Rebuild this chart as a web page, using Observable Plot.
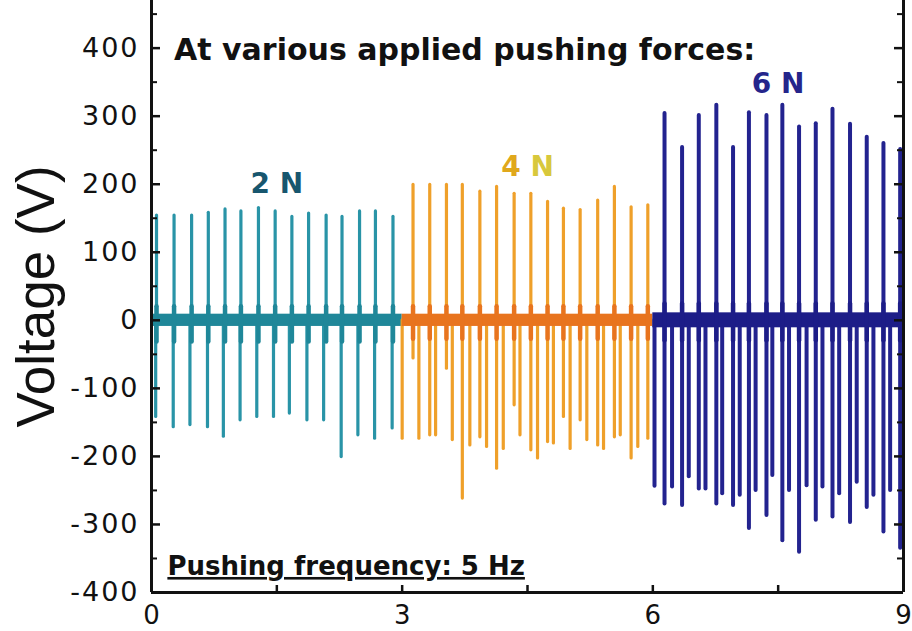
<!DOCTYPE html>
<html><head><meta charset="utf-8">
<script src="https://cdn.jsdelivr.net/npm/d3@7"></script>
<script src="https://cdn.jsdelivr.net/npm/@observablehq/plot@0.6"></script>
<style>
html,body{margin:0;padding:0;background:#fff;}
#chart svg{display:block;}
g[aria-label="y-axis tick label"] text{letter-spacing:2px;}
</style></head><body><div id="chart"></div>
<script>
// ---- axes ----
const xDomain = [0, 9];
const yDomain = [-400, 470];
const yTickValues = [-400, -300, -200, -100, 0, 100, 200, 300, 400];
const yMinorTicks = [-350, -250, -150, -50, 50, 150, 250, 350, 450];
const xTickValues = [0, 3, 6, 9];
const xInnerTicks = [1.5, 3, 4.5, 6, 7.5];

// ---- segments (applied force) ----
const forces = ["2 N", "4 N", "6 N"];
const segStart = [0, 3, 6];
const segEnd = [3, 6, 9];
const noiseAmp = [9, 9, 11];        // baseline noise band (V)
const ringLow = [-32, -28, -30];     // small lobes at each press (V)
const ringHigh = [20, 20, 24];

// ---- 2 N (0-3 s) ----
const t2Pos = [0.06, 0.27, 0.48, 0.68, 0.88, 1.07, 1.28, 1.48, 1.68, 1.88, 2.09, 2.28, 2.49, 2.68, 2.89];
const v2Pos = [154, 154, 154, 158, 163, 160, 165, 160, 152, 157, 154, 152, 160, 160, 152];
const t2Neg = [0.05, 0.26, 0.46, 0.67, 0.86, 1.06, 1.26, 1.46, 1.65, 1.86, 2.06, 2.27, 2.47, 2.67, 2.88];
const v2Neg = [-142, -157, -154, -157, -171, -147, -142, -142, -137, -147, -147, -201, -169, -174, -159];

// ---- 4 N (3-6 s) ----
const t4Pos = [3.13, 3.33, 3.53, 3.72, 3.93, 4.13, 4.34, 4.54, 4.74, 4.93, 5.13, 5.34, 5.54, 5.74, 5.94];
const v4Pos = [199, 199, 199, 199, 189, 196, 186, 186, 174, 164, 162, 176, 196, 166, 169];
const v4NegB = [-56, -169, -71, -262, -172, -218, -125, -191, -179, -142, -147, -184, -172, -203, -174];
const t4NegA = [3.0, 3.2, 3.4, 3.6, 3.81, 4.01, 4.21, 4.41, 4.62, 4.81, 5.01, 5.21, 5.41, 5.61, 5.82];
const v4NegA = [-174, -174, -169, -176, -184, -186, -189, -169, -203, -181, -189, -176, -189, -169, -186];

// ---- 6 N (6-9 s) ----
const t6Pos = [6.14, 6.35, 6.55, 6.76, 6.96, 7.15, 7.36, 7.55, 7.75, 7.95, 8.15, 8.36, 8.56, 8.76, 8.96];
const v6Pos = [304, 254, 301, 316, 254, 305, 301, 316, 284, 289, 310, 288, 269, 260, 251];
const v6NegB = [-270, -272, -248, -270, -272, -306, -287, -324, -341, -294, -289, -297, -275, -311, -335];
const t6NegA = [6.02, 6.23, 6.43, 6.63, 6.83, 7.04, 7.23, 7.43, 7.63, 7.84, 8.03, 8.23, 8.44, 8.64, 8.84];
const v6NegA = [-244, -245, -230, -248, -255, -257, -250, -228, -250, -243, -245, -255, -238, -257, -250];

// ---- styling ----
const spikeColor = ["#2994a7", "#efa02a", "#23238f"];
const baseColor = ["#1f8799", "#e8741e", "#1d1d88"];
const labelColor = ["#17566e", "#e0aa1c", "#25258b"];
const spikeWidth = [3.2, 3.2, 4];

const pair = (ts, vs) => ts.map((t, i) => ({t, v: vs[i]}));
const series = [
  {pos: pair(t2Pos, v2Pos), neg: [...pair(t2Neg, v2Neg)]},
  {pos: pair(t4Pos, v4Pos), neg: [...pair(t4Pos, v4NegB), ...pair(t4NegA, v4NegA)]},
  {pos: pair(t6Pos, v6Pos), neg: [...pair(t6Pos, v6NegB), ...pair(t6NegA, v6NegA)]}
];
const bands = forces.map((f, i) => ({f, x1: segStart[i], x2: segEnd[i], y1: -noiseAmp[i], y2: noiseAmp[i]}));

const marks = [];
series.forEach((s, i) => {
  marks.push(Plot.ruleX(s.neg, {x: "t", y1: 0, y2: "v", stroke: spikeColor[i], strokeWidth: spikeWidth[i], strokeLinecap: "round"}));
  marks.push(Plot.ruleX(s.pos, {x: "t", y1: 0, y2: "v", stroke: spikeColor[i], strokeWidth: spikeWidth[i], strokeLinecap: "round"}));
  marks.push(Plot.rect([bands[i]], {x1: "x1", x2: "x2", y1: "y1", y2: "y2", fill: baseColor[i]}));
  marks.push(Plot.ruleX(s.pos, {x: "t", y1: ringLow[i], y2: ringHigh[i], stroke: baseColor[i], strokeWidth: 4.5, strokeLinecap: "round"}));
});

const W = 912, H = 631, mL = 151, mR = 9, mT = 0, mB = 39;
const fw = W - mL - mR, fh = H - mT - mB;

const chart = Plot.plot({
  width: W, height: H,
  marginLeft: mL, marginRight: mR, marginTop: mT, marginBottom: mB,
  style: {fontFamily: "DejaVu Sans", background: "#fff", color: "#111"},
  x: {domain: xDomain},
  y: {domain: yDomain},
  marks: [
    ...marks,
    // frame (left, right, bottom)
    Plot.ruleX([xDomain[0], xDomain[1]], {stroke: "#111", strokeWidth: 3}),
    Plot.ruleY([yDomain[0]], {stroke: "#111", strokeWidth: 3}),
    // inward ticks
    Plot.tickY(yTickValues, {y: d => d, insetRight: fw - 9, stroke: "#111", strokeWidth: 2.5}),
    Plot.tickY(yMinorTicks, {y: d => d, insetRight: fw - 6, stroke: "#111", strokeWidth: 2}),
    Plot.tickY(yTickValues, {y: d => d, insetLeft: fw - 9, stroke: "#111", strokeWidth: 2.5}),
    Plot.tickY(yMinorTicks, {y: d => d, insetLeft: fw - 6, stroke: "#111", strokeWidth: 2}),
    Plot.tickX(xInnerTicks, {x: d => d, insetTop: fh - 7, stroke: "#111", strokeWidth: 2.5}),
    // tick labels
    Plot.axisY({ticks: yTickValues, tickSize: 0, tickPadding: 12, fontSize: 27, tickFormat: d => String(d), label: null}),
    Plot.axisX({ticks: xTickValues, tickSize: 0, tickPadding: 13, fontSize: 26, tickFormat: d => String(d), label: null}),
    // y label
    Plot.text(["Voltage (V)"], {frameAnchor: "left", rotate: -90, dx: -114, fontSize: 53, fontFamily: "Liberation Sans", lineAnchor: "middle", textAnchor: "middle", fill: "#111"}),
    // annotations
    Plot.text(["At various applied pushing forces:"], {x: 0.27, y: 397, textAnchor: "start", lineAnchor: "middle", fontSize: 30, fontWeight: "bold", fill: "#111"}),
    Plot.text(["Pushing frequency: 5 Hz"], {x: 0.19, y: -362, textAnchor: "start", lineAnchor: "middle", fontSize: 26, fontWeight: "bold", fill: "#111"}),
    Plot.text([forces[0]], {x: 1.5, y: 200, fontSize: 28, fontWeight: "bold", fill: labelColor[0], lineAnchor: "middle"}),
    Plot.text([forces[1]], {x: 4.5, y: 226, fontSize: 28, fontWeight: "bold", fill: labelColor[1], lineAnchor: "middle"}),
    Plot.text([forces[2]], {x: 7.5, y: 347, fontSize: 28, fontWeight: "bold", fill: labelColor[2], lineAnchor: "middle"})
  ]
});

d3.select(chart).selectAll("text").each(function () {
  const t = this.textContent;
  if (t.startsWith("Pushing")) d3.select(this).style("text-decoration", "underline");
  if (t === "4 N") this.innerHTML = '<tspan fill="#e0a81c">4</tspan> <tspan fill="#d8c83c">N</tspan>';
});
document.getElementById("chart").appendChild(chart);
</script></body></html>
